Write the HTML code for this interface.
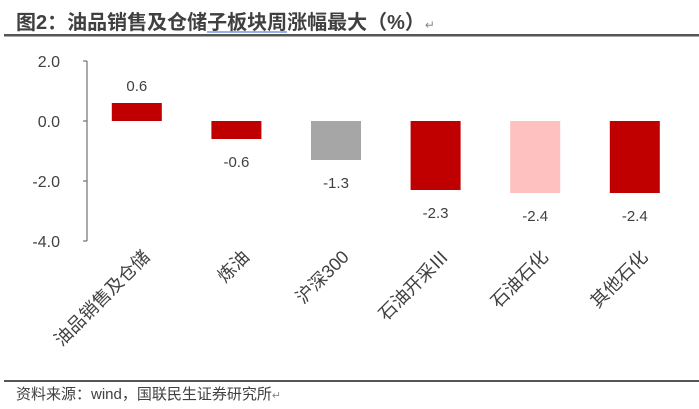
<!DOCTYPE html>
<html><head><meta charset="utf-8"><style>
body{margin:0;background:#fff;}
svg{display:block;font-family:"Liberation Sans","Noto Sans CJK SC",sans-serif;}
</style></head><body>
<svg id="c" width="699" height="409">
<text x="16" y="29" font-size="20" font-weight="bold" fill="#404040">图2：油品销售及仓储子板块周涨幅最大（%）<tspan font-size="12" font-weight="normal" fill="#888">↵</tspan></text>
<line x1="207" y1="32" x2="287" y2="32" stroke="#3366cc" stroke-width="1"/>
<rect x="4" y="34" width="695" height="2.5" fill="#555"/>
<rect x="4" y="380" width="695" height="2" fill="#555"/>
<text x="16" y="399" font-size="15" fill="#404040">资料来源：wind，国联民生证券研究所<tspan font-size="11" fill="#888">↵</tspan></text>
<g id="plot"></g>
</svg>
<script>
const categories=["油品销售及仓储","炼油","沪深300","石油开采Ⅲ","石油石化","其他石化"];
const values=[0.6,-0.6,-1.3,-2.3,-2.4,-2.4];
const labels=["0.6","-0.6","-1.3","-2.3","-2.4","-2.4"];
const colors=["#C00000","#C00000","#A6A6A6","#C00000","#FFC0C0","#C00000"];
const ticks=[2,0,-2,-4];
const ns="http://www.w3.org/2000/svg";
const g=document.getElementById("plot");
const y=v=>121-v*30;
const x0=87,step=99.6;
const cx=i=>x0+step*(i+0.5);
function mk(t,a){const e=document.createElementNS(ns,t);for(const k in a)e.setAttribute(k,a[k]);g.appendChild(e);return e;}
let ax=mk("line",{x1:x0,y1:y(2),x2:x0,y2:y(-4),stroke:"#555","stroke-width":1});


ticks.forEach(t=>{
 let l=mk("line",{x1:x0-4,y1:y(t),x2:x0,y2:y(t),stroke:"#555"});
 
 
 let tx=mk("text",{x:60,y:y(t)+6,"font-size":16,fill:"#404040","text-anchor":"end"});
 tx.textContent=t.toFixed(1);
 
 
});
values.forEach((v,i)=>{
 const w=50,top=Math.min(y(v),y(0)),h=Math.abs(y(v)-y(0));
 let r=mk("rect",{x:cx(i)-w/2,y:top,width:w,height:h,fill:colors[i]});
 
 
 let ly=v>=0?y(v)-12:y(v)+28;
 let t=mk("text",{x:cx(i),y:ly,"font-size":15,fill:"#404040","text-anchor":"middle"});
 t.textContent=labels[i];
 
 
 let c=mk("text",{x:cx(i)+14,y:258,"font-size":18,fill:"#404040","text-anchor":"end",transform:`rotate(-45 ${cx(i)+14} 258)`});
 c.textContent=categories[i];
 
 
});
</script>
</body></html>
